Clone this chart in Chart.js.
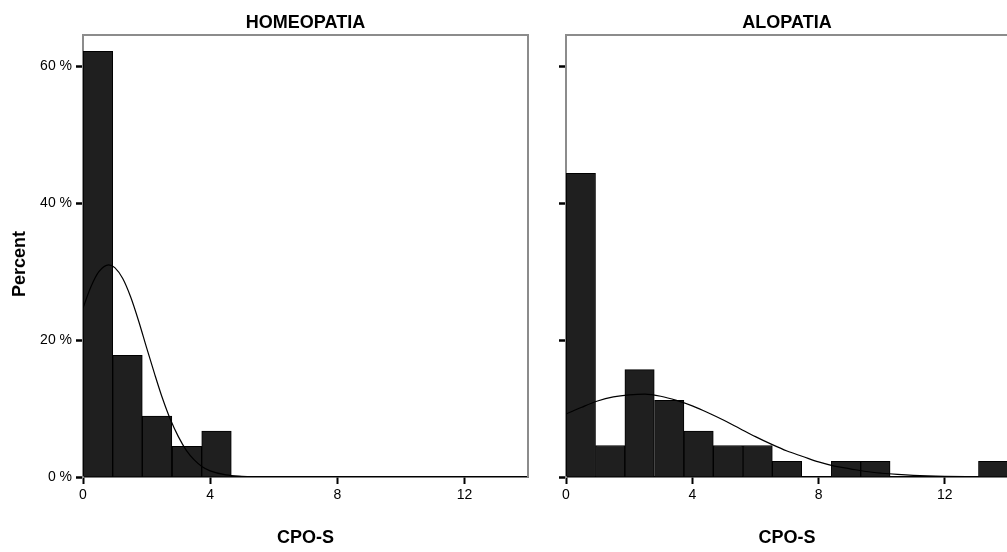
<!DOCTYPE html>
<html>
<head>
<meta charset="utf-8">
<script src="https://cdn.jsdelivr.net/npm/chart.js@4.4.0/dist/chart.umd.min.js"></script>
<style>
  html, body { margin: 0; padding: 0; background: #fff; overflow: hidden; width: 1007px; height: 552px; }
  #wrap { position: relative; width: 1007px; height: 552px; overflow: hidden; }
  canvas { position: absolute; top: 0; }
  #c1 { left: 0; }
  #c2 { left: 540px; }
</style>
</head>
<body>
<div id="wrap">
  <canvas id="c1" width="540" height="552"></canvas>
  <canvas id="c2" width="480" height="552"></canvas>
</div>
<script>
// ---- data ----
const panelTitles = ['HOMEOPATIA', 'ALOPATIA'];
const xAxisTitle = 'CPO-S';
const yAxisTitle = 'Percent';

// histogram bin midpoints (15 bins spanning 0..14)
const binMids = [0.47, 1.4, 2.33, 3.27, 4.2, 5.13, 6.07, 7.0, 7.93, 8.87, 9.8, 10.73, 11.67, 12.6, 13.53];

const homeoPct = [62.2, 17.8, 8.9, 4.5, 6.7, 0, 0, 0, 0, 0, 0, 0, 0, 0, 0];
const aloPct   = [44.4, 4.6, 15.7, 11.2, 6.7, 4.6, 4.6, 2.3, 0, 2.3, 2.3, 0, 0, 0, 2.3];

// fitted normal curves
const homeoCurveX = [0, 0.25, 0.5, 0.81, 1, 1.25, 1.5, 1.75, 2, 2.25, 2.5, 2.75, 3, 3.25, 3.5, 3.75, 4, 4.5, 5, 5.5, 6];
const homeoCurveY = [24.7, 27.8, 30.0, 31.0, 30.6, 29.0, 26.3, 22.8, 18.9, 15.1, 11.5, 8.4, 5.9, 3.9, 2.5, 1.5, 0.9, 0.3, 0.1, 0.03, 0];
const aloCurveX = [0, 0.5, 1, 1.5, 2, 2.5, 3, 3.5, 4, 4.5, 5, 5.5, 6, 6.5, 7, 7.5, 8, 8.5, 9, 9.5, 10, 10.5, 11, 12, 13];
const aloCurveY = [9.2, 10.2, 11.1, 11.7, 12.0, 12.1, 11.8, 11.2, 10.4, 9.4, 8.3, 7.1, 5.9, 4.8, 3.8, 3.0, 2.2, 1.6, 1.2, 0.8, 0.55, 0.37, 0.24, 0.1, 0.04];

const xTicks = [0, 4, 8, 12];
const yTicks = [0, 20, 40, 60];
const xRange = [0, 14];
const yRange = [0, 64.6];

// ---- chart building ----
const FONT = '"Liberation Sans", Arial, sans-serif';

function textPlugin(title, showYTitle) {
  return {
    id: 'texts',
    afterDraw(chart) {
      const ctx = chart.ctx;
      const ca = chart.chartArea;
      ctx.save();
      // frame top & right
      ctx.strokeStyle = '#8c8c8c';
      ctx.lineWidth = 2;
      ctx.beginPath();
      ctx.moveTo(ca.left, ca.top);
      ctx.lineTo(ca.right, ca.top);
      ctx.lineTo(ca.right, ca.bottom);
      ctx.stroke();
      ctx.fillStyle = '#000';
      ctx.textAlign = 'center';
      ctx.textBaseline = 'middle';
      ctx.font = 'bold 18px ' + FONT;
      const cx = (ca.left + ca.right) / 2;
      ctx.fillText(title, cx, 23);
      ctx.fillText(xAxisTitle, cx, 538);
      if (showYTitle) {
        ctx.translate(20.5, 264);
        ctx.rotate(-Math.PI / 2);
        ctx.fillText(yAxisTitle, 0, 0);
      }
      ctx.restore();
    }
  };
}

function makeChart(id, title, pct, cx, cy, yAxisWidth, showYLabels) {
  const bars = binMids.map((m, i) => ({ x: m, y: pct[i] }));
  const curve = cx.map((v, i) => ({ x: v, y: cy[i] }));
  return new Chart(document.getElementById(id), {
    type: 'bar',
    data: {
      datasets: [
        {
          type: 'line',
          data: curve,
          borderColor: '#000',
          borderWidth: 1.2,
          pointRadius: 0,
          fill: false,
          cubicInterpolationMode: 'monotone',
          order: 0
        },
        {
          type: 'bar',
          data: bars,
          backgroundColor: '#1f1f1f',
          borderColor: '#000',
          borderWidth: 1,
          barPercentage: 1,
          categoryPercentage: 1,
          order: 1
        }
      ]
    },
    options: {
      responsive: false,
      animation: false,
      events: [],
      layout: { padding: { top: 35, right: 12, left: 0, bottom: 0 } },
      plugins: { legend: { display: false }, tooltip: { enabled: false }, title: { display: false } },
      scales: {
        x: {
          type: 'linear',
          min: xRange[0],
          max: xRange[1],
          offset: false,
          afterBuildTicks: s => { s.ticks = xTicks.map(v => ({ value: v })); },
          afterFit: s => { s.height = 75; },
          grid: { display: true, drawOnChartArea: false, drawTicks: true, tickLength: 7, tickWidth: 2, tickColor: '#000', offset: false },
          border: { display: true, color: '#000', width: 1.5 },
          ticks: { color: '#000', padding: 3, font: { family: FONT, size: 14 }, maxRotation: 0 }
        },
        y: {
          type: 'linear',
          min: yRange[0],
          max: yRange[1],
          afterBuildTicks: s => { s.ticks = yTicks.map(v => ({ value: v })); },
          afterFit: s => { s.width = yAxisWidth; },
          grid: { display: true, drawOnChartArea: false, drawTicks: true, tickLength: 7, tickWidth: 2.5, tickColor: '#000' },
          border: { display: true, color: '#8c8c8c', width: 2 },
          ticks: {
            display: showYLabels,
            color: '#000',
            padding: 4,
            font: { family: FONT, size: 14 },
            callback: v => v + ' %'
          }
        }
      }
    },
    plugins: [textPlugin(title, showYLabels)]
  });
}

makeChart('c1', panelTitles[0], homeoPct, homeoCurveX, homeoCurveY, 83, true);
makeChart('c2', panelTitles[1], aloPct, aloCurveX, aloCurveY, 26, false);
</script>
</body>
</html>
